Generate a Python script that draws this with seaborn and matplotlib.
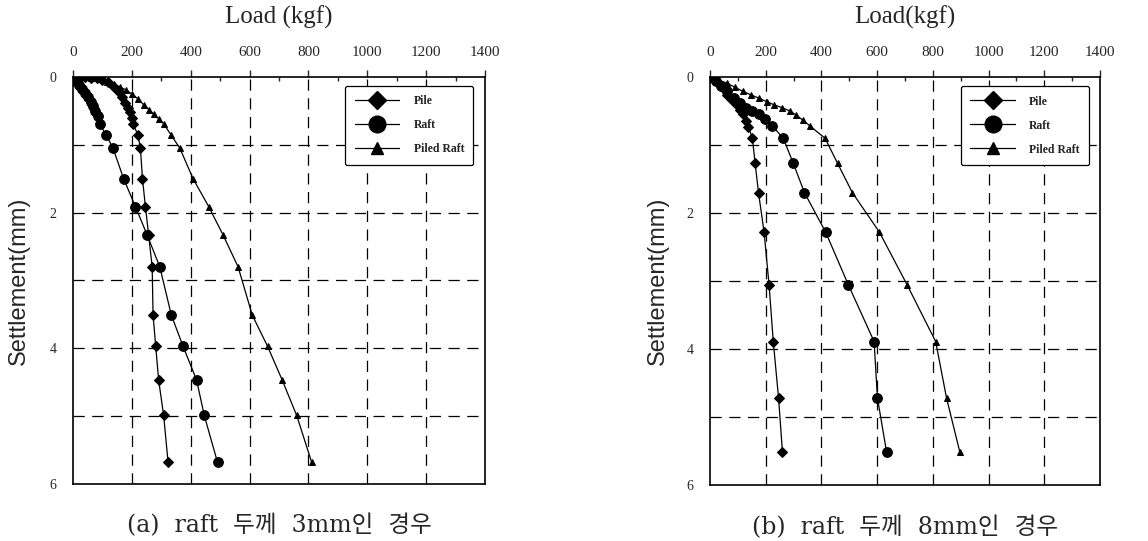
import matplotlib
matplotlib.use("Agg")
import matplotlib.pyplot as plt
from matplotlib.lines import Line2D
from matplotlib.ticker import MultipleLocator
import seaborn as sns

# (a) raft 3mm - load (kgf) vs settlement (mm)
a_pile_load = [0, 20, 40, 60, 80, 100, 120, 140, 155, 168, 178, 186, 193, 199, 204, 221, 229, 236, 246, 257, 269, 272, 281, 291, 308, 323]
a_pile_settle = [0, 0.0, 0.005, 0.01, 0.02, 0.04, 0.08, 0.15, 0.22, 0.30, 0.38, 0.45, 0.52, 0.60, 0.69, 0.86, 1.05, 1.50, 1.91, 2.33, 2.80, 3.51, 3.97, 4.47, 4.99, 5.68]
a_raft_load = [0, 5, 12, 20, 30, 40, 50, 60, 68, 76, 84, 91, 113, 136, 172, 212, 252, 295, 334, 374, 420, 446, 491]
a_raft_settle = [0, 0.03, 0.07, 0.12, 0.18, 0.24, 0.30, 0.37, 0.43, 0.50, 0.57, 0.69, 0.86, 1.05, 1.50, 1.91, 2.33, 2.80, 3.51, 3.97, 4.47, 4.99, 5.68]
a_piled_load = [0, 30, 60, 90, 115, 140, 160, 180, 200, 220, 240, 258, 275, 292, 308, 334, 363, 408, 461, 510, 561, 609, 661, 711, 760, 811]
a_piled_settle = [0, 0.0, 0.01, 0.03, 0.07, 0.11, 0.15, 0.19, 0.25, 0.32, 0.41, 0.48, 0.55, 0.62, 0.69, 0.86, 1.05, 1.50, 1.91, 2.33, 2.80, 3.51, 3.97, 4.47, 4.99, 5.68]

# (b) raft 8mm
b_pile_load = [0, 15, 30, 45, 62, 80, 96, 108, 118, 130, 138, 152, 162, 174, 194, 212, 227, 246, 260]
b_pile_settle = [0, 0.04, 0.09, 0.16, 0.26, 0.34, 0.41, 0.48, 0.55, 0.64, 0.73, 0.90, 1.27, 1.70, 2.28, 3.06, 3.89, 4.72, 5.52]
b_raft_load = [0, 20, 40, 60, 85, 108, 130, 152, 175, 198, 224, 263, 299, 339, 415, 497, 589, 601, 634]
b_raft_settle = [0, 0.06, 0.13, 0.21, 0.31, 0.38, 0.45, 0.50, 0.55, 0.61, 0.72, 0.90, 1.27, 1.70, 2.28, 3.06, 3.89, 4.72, 5.52]
b_piled_load = [0, 30, 60, 90, 118, 146, 175, 203, 231, 259, 287, 310, 332, 359, 413, 458, 511, 608, 708, 810, 849, 897]
b_piled_settle = [0, 0.04, 0.09, 0.15, 0.21, 0.26, 0.31, 0.36, 0.41, 0.45, 0.50, 0.56, 0.63, 0.72, 0.90, 1.27, 1.70, 2.28, 3.06, 3.89, 4.72, 5.52]

series_names = ["Pile", "Raft", "Piled Raft"]
x_ticks = [0, 200, 400, 600, 800, 1000, 1200, 1400]
y_ticks = [0, 2, 4, 6]

sns.set_style("white")
plt.rcParams["font.family"] = ["Liberation Serif", "Noto Sans CJK KR"]

markers = {"Pile": ("D", 5), "Raft": ("o", 7), "Piled Raft": ("^", 5)}
legend_ms = {"Pile": 9, "Raft": 12, "Piled Raft": 9}


def draw_panel(ax, data, title, caption, ylab_x):
    for name, (xs, ys) in zip(series_names, data):
        mk, ms = markers[name]
        sns.lineplot(x=xs, y=ys, sort=False, estimator=None, ax=ax, color="black",
                     linewidth=0.9, marker=mk, markersize=ms, markeredgecolor="black")
    ax.set_xlim(0, 1400)
    ax.set_ylim(6, 0)
    ax.xaxis.tick_top()
    ax.set_xticks(x_ticks)
    ax.set_yticks(y_ticks)
    ax.xaxis.set_minor_locator(MultipleLocator(100))
    ax.yaxis.set_minor_locator(MultipleLocator(1))
    ax.tick_params(axis="x", which="major", direction="out", length=5, width=1, labelsize=11, pad=8)
    ax.tick_params(axis="x", which="minor", direction="in", length=3, width=1)
    ax.tick_params(axis="y", which="both", direction="out", length=5, width=1, labelsize=10, pad=7)
    for t in ax.get_xticklabels() + ax.get_yticklabels():
        t.set_fontfamily("Liberation Serif")
    for v in [200, 400, 600, 800, 1000, 1200]:
        ax.axvline(v, color="black", linestyle=(0, (9, 6)), linewidth=0.9)
    for v in [1, 2, 3, 4, 5]:
        ax.axhline(v, color="black", linestyle=(0, (9, 6)), linewidth=0.9)
    for s in ax.spines.values():
        s.set_color("black")
        s.set_linewidth(1.2)
    ax.set_xlabel("")
    ax.set_ylabel("Settlement(mm)", fontsize=17, family="Liberation Sans")
    ax.yaxis.set_label_coords(ylab_x, 0.5)
    ax.text(0.5, 1.147, title, transform=ax.transAxes, ha="center", va="center", fontsize=18)
    handles = [Line2D([], [], color="black", linewidth=0.9, marker=markers[n][0],
                      markersize=legend_ms[n]) for n in series_names]
    leg = ax.legend(handles, series_names, loc="upper right", bbox_to_anchor=(0.972, 0.978),
                    borderaxespad=0, handlelength=3.8, labelspacing=1.02, fancybox=True,
                    edgecolor="black", framealpha=1, borderpad=0.8, handletextpad=1.2,
                    prop={"family": "Liberation Serif", "weight": "bold", "size": 8.5})
    leg.get_frame().set_linewidth(0.9)
    ax.text(0.5, -0.103, caption, transform=ax.transAxes, ha="center", va="center", fontsize=17,
            family=["DejaVu Serif", "Noto Sans CJK KR"])


fig = plt.figure(figsize=(11.48, 5.41), dpi=100)
ax1 = fig.add_axes([0.0636, 0.1054, 0.3589, 0.7523])
ax2 = fig.add_axes([0.6185, 0.1035, 0.3397, 0.7540])

draw_panel(ax1, [(a_pile_load, a_pile_settle), (a_raft_load, a_raft_settle),
                 (a_piled_load, a_piled_settle)], "Load (kgf)", "(a)  raft  두께  3mm인  경우", -0.104)
draw_panel(ax2, [(b_pile_load, b_pile_settle), (b_raft_load, b_raft_settle),
                 (b_piled_load, b_piled_settle)], "Load(kgf)", "(b)  raft  두께  8mm인  경우", -0.105)

fig.savefig("out.png", dpi=100)
